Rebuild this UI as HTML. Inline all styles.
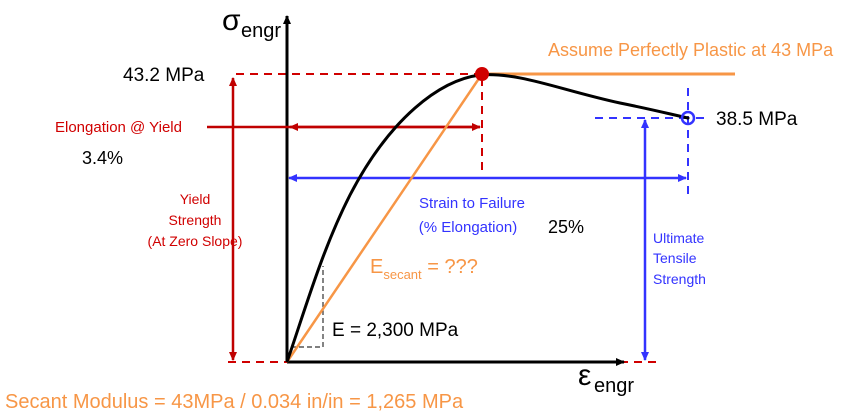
<!DOCTYPE html>
<html><head><meta charset="utf-8"><style>
body{margin:0;background:#fff;width:866px;height:418px;overflow:hidden}
svg{display:block}
text{font-family:"Liberation Sans",sans-serif}
</style></head><body>
<svg width="866" height="418" viewBox="0 0 866 418">
<defs>
<marker id="ak" markerWidth="10" markerHeight="10" refX="8" refY="5" orient="auto" markerUnits="userSpaceOnUse"><path d="M0,1 L9,5 L0,9 Z" fill="#000"/></marker>
<marker id="ar" markerWidth="10" markerHeight="10" refX="8" refY="5" orient="auto-start-reverse" markerUnits="userSpaceOnUse"><path d="M0,1 L9,5 L0,9 Z" fill="#c00000"/></marker>
<marker id="ab" markerWidth="10" markerHeight="10" refX="8" refY="5" orient="auto-start-reverse" markerUnits="userSpaceOnUse"><path d="M0,1 L9,5 L0,9 Z" fill="#3333ff"/></marker>
</defs>
<g stroke="#d00000" stroke-width="2" stroke-dasharray="8,6" fill="none">
<line x1="236" y1="74" x2="482" y2="74"/>
<line x1="228" y1="362" x2="287" y2="362"/>
<line x1="620" y1="362" x2="662" y2="362"/>
<line x1="482" y1="78" x2="482" y2="170"/>
</g>
<g stroke="#3333ff" stroke-width="2" stroke-dasharray="8,6" fill="none">
<line x1="595" y1="118" x2="688" y2="118"/>
<line x1="688" y1="88" x2="688" y2="196"/>
<line x1="696" y1="118" x2="706" y2="118"/>
</g>
<line x1="287" y1="362" x2="287" y2="16" stroke="#000" stroke-width="3" marker-end="url(#ak)"/>
<line x1="287" y1="362" x2="624" y2="362" stroke="#000" stroke-width="3" marker-end="url(#ak)"/>
<line x1="207" y1="127" x2="480" y2="127" stroke="#c00000" stroke-width="2.5"/>
<line x1="290" y1="127" x2="480" y2="127" stroke="#c00000" stroke-width="2.5" marker-start="url(#ar)" marker-end="url(#ar)"/>
<line x1="233" y1="78" x2="233" y2="360" stroke="#c00000" stroke-width="2.5" marker-start="url(#ar)" marker-end="url(#ar)"/>
<line x1="289" y1="178" x2="686" y2="178" stroke="#3333ff" stroke-width="2.5" marker-start="url(#ab)" marker-end="url(#ab)"/>
<line x1="645" y1="120" x2="645" y2="360" stroke="#3333ff" stroke-width="2.5" marker-start="url(#ab)" marker-end="url(#ab)"/>
<path d="M291,347 H323 V266" stroke="#333" stroke-width="1.2" stroke-dasharray="5,3" fill="none"/>
<line x1="482" y1="74" x2="735" y2="74" stroke="#f79646" stroke-width="3"/>
<line x1="287" y1="362" x2="482" y2="74" stroke="#f79646" stroke-width="2.5"/>
<path d="M287,362 C305,310 322,250 350,195 C390,118 440,80 480,75 C520,72 560,90 620,103 C650,109 670,114 688,118" stroke="#000" stroke-width="3" fill="none"/>
<circle cx="482" cy="74" r="7" fill="#d00000"/>
<circle cx="688" cy="118" r="6" fill="none" stroke="#3333ff" stroke-width="2.5"/>
<circle cx="688" cy="118" r="1.5" fill="#000"/>
<text x="222" y="30" font-size="30">σ</text><text x="241" y="37" font-size="20">engr</text>
<text x="123" y="81" font-size="19">43.2 MPa</text>
<text x="548" y="56" font-size="18" fill="#f79646">Assume Perfectly Plastic at 43 MPa</text>
<text x="716" y="125" font-size="19">38.5 MPa</text>
<text x="55" y="132" font-size="15" fill="#d00000">Elongation @ Yield</text>
<text x="82" y="164" font-size="18">3.4%</text>
<g font-size="14" fill="#d00000" text-anchor="middle">
<text x="195" y="204">Yield</text><text x="195" y="225">Strength</text><text x="195" y="246">(At Zero Slope)</text></g>
<g font-size="15" fill="#3333ff" text-anchor="middle">
<text x="472" y="208">Strain to Failure</text><text x="468" y="232">(% Elongation)</text></g>
<text x="548" y="233" font-size="18">25%</text>
<g font-size="14" fill="#3333ff"><text x="653" y="243">Ultimate</text><text x="653" y="263">Tensile</text><text x="653" y="284">Strength</text></g>
<text x="370" y="273" font-size="20" fill="#f79646">E<tspan font-size="13" dy="6">secant</tspan><tspan dy="-6"> = ???</tspan></text>
<text x="332" y="336" font-size="19">E = 2,300 MPa</text>
<text x="578" y="385" font-size="30">ε</text><text x="594" y="392" font-size="20">engr</text>
<text x="5" y="408" font-size="20" fill="#f79646">Secant Modulus = 43MPa / 0.034 in/in = 1,265 MPa</text>
</svg>
</body></html>
